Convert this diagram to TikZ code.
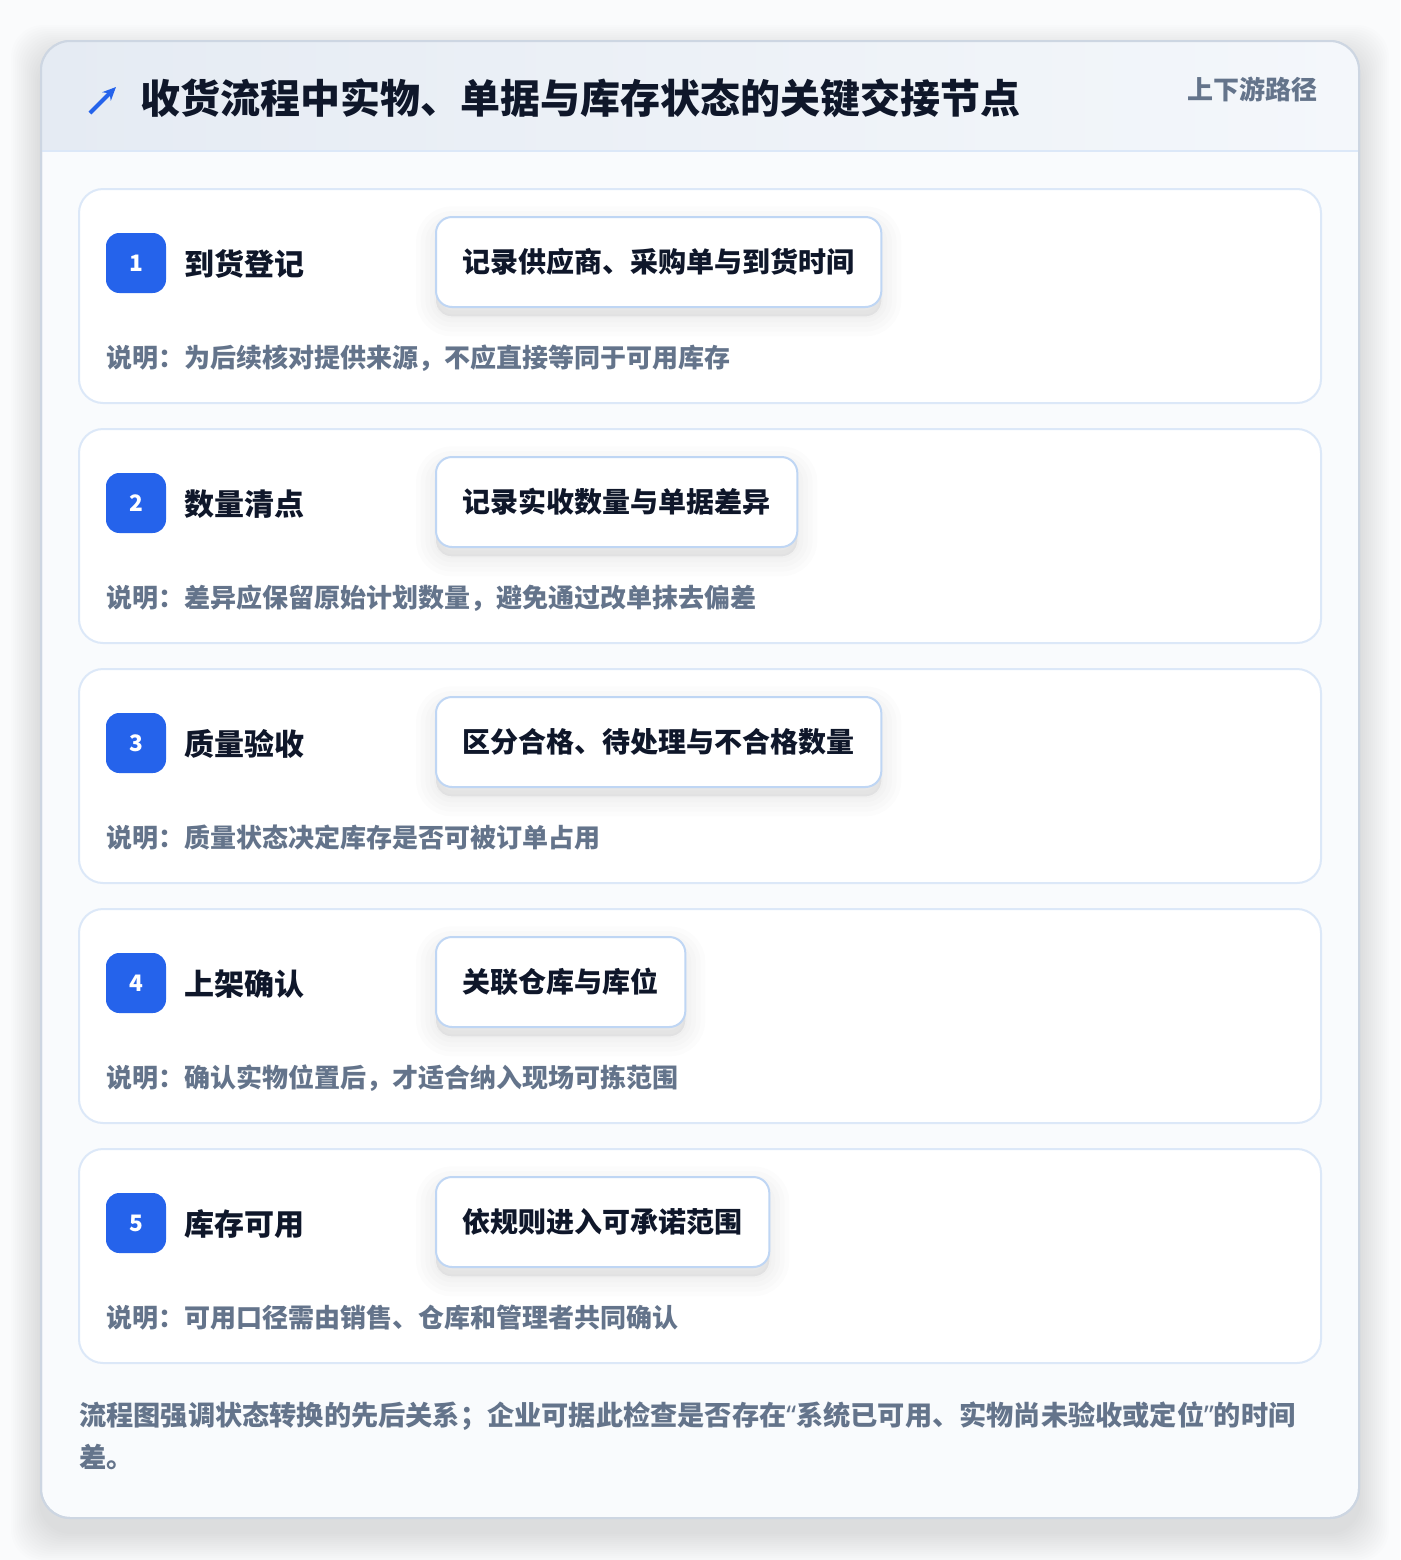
\documentclass[tikz,border=0pt]{standalone}
\usepackage{fontspec}
\setmainfont{Noto Sans CJK SC}
\newfontfamily\quotefont{Noto Sans}
\usetikzlibrary{arrows.meta}
\definecolor{brandblue}{HTML}{2563EB}
\definecolor{inkdark}{HTML}{0F172A}
\definecolor{inkgray}{HTML}{64748B}
\definecolor{cardline}{HTML}{DCE8F8}
\definecolor{boxline}{HTML}{BFD6F4}
\definecolor{frameline}{HTML}{CDD6E2}
\definecolor{headleft}{HTML}{E5EBF3}
\definecolor{headright}{HTML}{F4F7FB}
\definecolor{pagebg}{HTML}{FAFBFC}
\definecolor{framebg}{HTML}{F9FBFD}
\definecolor{shadowink}{HTML}{1E293B}
\tikzset{
  frame/.style={draw=frameline, line width=1.5pt, fill=framebg, rounded corners=22pt},
  card/.style={draw=cardline, line width=1.5pt, fill=white, rounded corners=18pt},
  badge/.style={fill=brandblue, rounded corners=10pt, minimum width=45pt, minimum height=45pt,
    inner sep=0pt, text=white, font=\bfseries\fontsize{17}{17}\selectfont},
  steptitle/.style={anchor=west, inner sep=0pt, text=inkdark, font=\bfseries\fontsize{22.5}{22.5}\selectfont},
  softshadow/.style={preaction={draw=shadowink, draw opacity=0.01, fill=shadowink, fill opacity=0.01,
    line width=#1, transform canvas={yshift=-7pt}}},
  actbox/.style={anchor=west, draw=boxline, line width=1.5pt, fill=white, rounded corners=12pt,
    minimum height=67.5pt, inner xsep=20pt, text=inkdark, font=\bfseries\fontsize{21}{21}\selectfont,
    softshadow=30pt, softshadow=23pt, softshadow=16pt, softshadow=9pt, softshadow=3pt},
  notetext/.style={anchor=west, inner sep=0pt, text=inkgray, font=\bfseries\fontsize{19.5}{19.5}\selectfont},
}
\begin{document}
\begin{tikzpicture}[x=0.75pt,y=-0.75pt]
  % 背景
  \fill[pagebg] (0,0) rectangle (1400,1560);
  \useasboundingbox (0,0) rectangle (1400,1560);
  % 外枠の影
  \foreach \s in {2,4,...,30}
    \fill[shadowink, opacity=0.006, rounded corners=24pt] (41-\s,41-\s+14) rectangle (1359+\s,1518+\s+14);
  % 外枠のカード
  \draw[frame] (41,41) rectangle (1359,1518);
  % ヘッダーのグラデーション
  \begin{scope}
    \clip[rounded corners=22pt] (41,41) rectangle (1359,1518);
    \shade[left color=headleft, right color=headright] (41,41) rectangle (1359,151);
  \end{scope}
  \draw[cardline, line width=1.5pt] (42,151) -- (1358,151);
  \draw[frameline, line width=1.5pt, rounded corners=22pt] (41,41) rectangle (1359,1518);
  % タイトル
  \coordinate (icontail) at (90,113);
  \coordinate (iconhead) at (116,87);
  \draw[brandblue, line width=3pt, -{Stealth[length=10pt,width=9pt]}] (icontail) -- (iconhead);
  \node[anchor=west, inner sep=0pt, text=inkdark, font=\bfseries\fontsize{30}{30}\selectfont]
    (title) at (140,98) {收货流程中实物、单据与库存状态的关键交接节点};
  \node[anchor=east, inner sep=0pt, text=inkgray, font=\bfseries\fontsize{19.5}{19.5}\selectfont]
    (path) at (1318,89) {上下游路径};
  % 各ステップ
  \foreach \i/\name/\act/\note in {
      1/到货登记/记录供应商、采购单与到货时间/为后续核对提供来源，不应直接等同于可用库存,
      2/数量清点/记录实收数量与单据差异/差异应保留原始计划数量，避免通过改单抹去偏差,
      3/质量验收/区分合格、待处理与不合格数量/质量状态决定库存是否可被订单占用,
      4/上架确认/关联仓库与库位/确认实物位置后，才适合纳入现场可拣范围,
      5/库存可用/依规则进入可承诺范围/可用口径需由销售、仓库和管理者共同确认} {
    \pgfmathsetmacro\top{189+240*(\i-1)}
    \draw[card] (79,\top) rectangle (1321,\top+214);
    \node[badge] (b\i) at (136,\top+74) {\i};
    \node[steptitle] (t\i) at (184,\top+75) {\name};
    \node[actbox] (a\i) at (435,\top+73) {\act};
    \node[notetext] (n\i) at (106,\top+169) {说明：\note};
  }
  % 脚注
  \node[anchor=west, inner sep=0pt, align=left, text=inkgray,
    font=\bfseries\fontsize{20.4}{31.5}\selectfont] (footer) at (79,1436)
    {流程图强调状态转换的先后关系；企业可据此检查是否存在{\quotefont\bfseries “}系统已可用、实物尚未验收或定位{\quotefont\bfseries ”}的时间\\差。};
\end{tikzpicture}
\end{document}
